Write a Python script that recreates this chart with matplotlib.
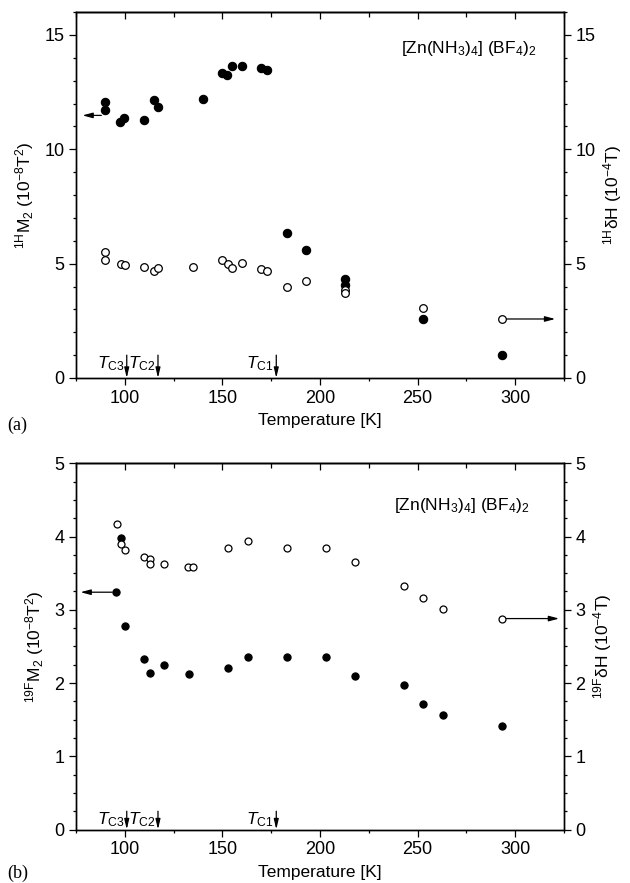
import matplotlib
matplotlib.use("Agg")
import matplotlib.pyplot as plt
from matplotlib.ticker import MultipleLocator

plt.rcParams["font.family"] = ["Liberation Sans", "DejaVu Sans"]
plt.rcParams["mathtext.fontset"] = "custom"
plt.rcParams["mathtext.rm"] = "Liberation Sans"
plt.rcParams["mathtext.it"] = "Liberation Sans:italic"
plt.rcParams["mathtext.bf"] = "Liberation Sans:bold"

# ── data ──────────────────────────────────────────────────────────────────────

# (a) 1H: second moment M2 (filled) and line width dH (open)
h_temp_m2 = [90, 90, 97.5, 99.5, 110, 115, 117, 140, 150, 152.5, 155, 160, 170,
             173, 183, 193, 213, 213, 253, 293]
h_m2 = [12.07, 11.70, 11.19, 11.38, 11.27, 12.17, 11.85, 12.18, 13.33, 13.23,
        13.65, 13.65, 13.54, 13.48, 6.35, 5.59, 4.31, 4.06, 2.58, 1.00]
h_temp_dh = [90, 90, 98, 100, 110, 115, 117, 135, 150, 153, 155, 160, 170, 173,
             183, 193, 213, 213, 253, 293]
h_dh = [5.50, 5.15, 4.99, 4.96, 4.86, 4.69, 4.80, 4.85, 5.15, 4.99, 4.83, 5.04,
        4.78, 4.69, 3.99, 4.24, 3.84, 3.70, 3.04, 2.58]

# (b) 19F
f_temp_m2 = [95.5, 98, 100, 110, 113, 120, 133, 153, 163, 183, 203, 218, 243,
             253, 263, 293]
f_m2 = [3.24, 3.98, 2.78, 2.33, 2.14, 2.25, 2.12, 2.20, 2.36, 2.35, 2.36, 2.09,
        1.97, 1.72, 1.56, 1.41]
f_temp_dh = [96, 98, 100, 110, 113, 113, 120, 132.5, 135, 153, 163, 183, 203,
             218, 243, 253, 263, 293]
f_dh = [4.17, 3.90, 3.81, 3.72, 3.69, 3.62, 3.63, 3.59, 3.59, 3.84, 3.94, 3.84,
        3.84, 3.65, 3.32, 3.16, 3.01, 2.88]

# phase transitions
tc_temps = [101, 117, 177.6]
tc_labels = [r"$T_{\mathrm{C3}}$", r"$T_{\mathrm{C2}}$", r"$T_{\mathrm{C1}}$"]

compound = r"[Zn(NH$_3$)$_4$] (BF$_4$)$_2$"

# ── layout ────────────────────────────────────────────────────────────────────

W, H = 630, 883
fig = plt.figure(figsize=(W / 100, H / 100), dpi=100)
fig.patch.set_facecolor("white")

def rect(x0, y0, x1, y1):
    return [x0 / W, 1 - y1 / H, (x1 - x0) / W, (y1 - y0) / H]

FS_TICK = 13
FS_LAB = 12.5


def style_panel(ax, ymax, ymajor, yminor):
    ax.set_xlim(75, 325)
    ax.set_ylim(0, ymax)
    ax.xaxis.set_major_locator(MultipleLocator(50))
    ax.xaxis.set_minor_locator(MultipleLocator(25))
    ax.yaxis.set_major_locator(MultipleLocator(ymajor))
    ax.yaxis.set_minor_locator(MultipleLocator(yminor))
    ax.tick_params(which="both", direction="out", labelsize=FS_TICK,
                   top=False, right=False, width=0.9)
    ax.tick_params(which="major", length=4.8)
    ax.tick_params(which="minor", length=2.4)
    for s in ax.spines.values():
        s.set_linewidth(1.0)
    # top mirror ticks, pointing inwards
    top = ax.secondary_xaxis("top")
    top.xaxis.set_major_locator(MultipleLocator(50))
    top.xaxis.set_minor_locator(MultipleLocator(25))
    top.tick_params(which="both", direction="in", labeltop=False, width=0.9)
    top.tick_params(which="major", length=4.8)
    top.tick_params(which="minor", length=3.6)
    top.spines["top"].set_linewidth(1.0)
    # right axis
    rax = ax.twinx()
    rax.set_ylim(0, ymax)
    rax.yaxis.set_major_locator(MultipleLocator(ymajor))
    rax.yaxis.set_minor_locator(MultipleLocator(yminor))
    rax.tick_params(which="both", direction="out", labelsize=FS_TICK, width=0.9)
    rax.tick_params(which="major", length=4.8)
    rax.tick_params(which="minor", length=2.4)
    for s in rax.spines.values():
        s.set_linewidth(1.0)
    return rax


def arrow(ax, x0, y0, x1, y1, hw=0.16, hl=0.6):
    ax.annotate("", xy=(x1, y1), xytext=(x0, y0),
                arrowprops=dict(arrowstyle=f"-|>,head_width={hw},head_length={hl}",
                                color="black", lw=0.9, shrinkA=0, shrinkB=0))


# ── (a) 1H ────────────────────────────────────────────────────────────────────

ax1 = fig.add_axes(rect(76, 12, 564, 378))
rax1 = style_panel(ax1, 16, 5, 1)
ax1.plot(h_temp_m2, h_m2, "o", color="black", ms=6, mec="black", mew=0.8,
         zorder=3)
rax1.plot(h_temp_dh, h_dh, "o", mfc="white", mec="black", ms=5.5, mew=0.9,
          zorder=3)
ax1.set_ylabel(r"$^{1\mathrm{H}}$M$_2$ (10$^{-8}$T$^2$)", fontsize=FS_LAB,
               labelpad=6)
rax1.set_ylabel(r"$^{1\mathrm{H}}$δH (10$^{-4}$T)", fontsize=FS_LAB,
                labelpad=4)
ax1.set_xlabel("Temperature [K]", fontsize=FS_LAB, labelpad=5)
ax1.text(310.8, 14.4, compound, ha="right", va="center", fontsize=12.5)
arrow(ax1, 88, 11.48, 78.3, 11.48)
arrow(ax1, 295.5, 2.58, 320.5, 2.58)
for t, lab in zip(tc_temps, tc_labels):
    arrow(ax1, t, 1.0, t, 0.0, hw=0.14, hl=0.6)
    ax1.text(t - 1.2, 0.42, lab, ha="right", va="baseline", fontsize=12.5)
fig.text(7 / W, 1 - 430 / H, "(a)", family=["Liberation Serif"], fontsize=13,
         ha="left", va="baseline")

# ── (b) 19F ───────────────────────────────────────────────────────────────────

ax2 = fig.add_axes(rect(76, 463.3, 564, 829.5))
rax2 = style_panel(ax2, 5, 1, 0.25)
ax2.plot(f_temp_m2, f_m2, "o", color="black", ms=5.2, mec="black", mew=0.8,
         zorder=3)
rax2.plot(f_temp_dh, f_dh, "o", mfc="white", mec="black", ms=5, mew=0.9,
          zorder=3)
ax2.set_ylabel(r"$^{19\mathrm{F}}$M$_2$ (10$^{-8}$T$^2$)", fontsize=FS_LAB,
               labelpad=6)
rax2.set_ylabel(r"$^{19\mathrm{F}}$δH (10$^{-4}$T)", fontsize=FS_LAB,
                labelpad=4)
ax2.set_xlabel("Temperature [K]", fontsize=FS_LAB, labelpad=5)
ax2.text(307.3, 4.43, compound, ha="right", va="center", fontsize=12.5)
arrow(ax2, 93.5, 3.24, 77.3, 3.24)
arrow(ax2, 295.5, 2.88, 322.5, 2.88)
for t, lab in zip(tc_temps, tc_labels):
    arrow(ax2, t, 0.25, t, 0.0, hw=0.14, hl=0.6)
    ax2.text(t - 1.2, 0.075, lab, ha="right", va="baseline", fontsize=12.5)
fig.text(7 / W, 1 - 878 / H, "(b)", family=["Liberation Serif"], fontsize=13,
         ha="left", va="baseline")

fig.savefig("out.png", dpi=100, facecolor="white")
